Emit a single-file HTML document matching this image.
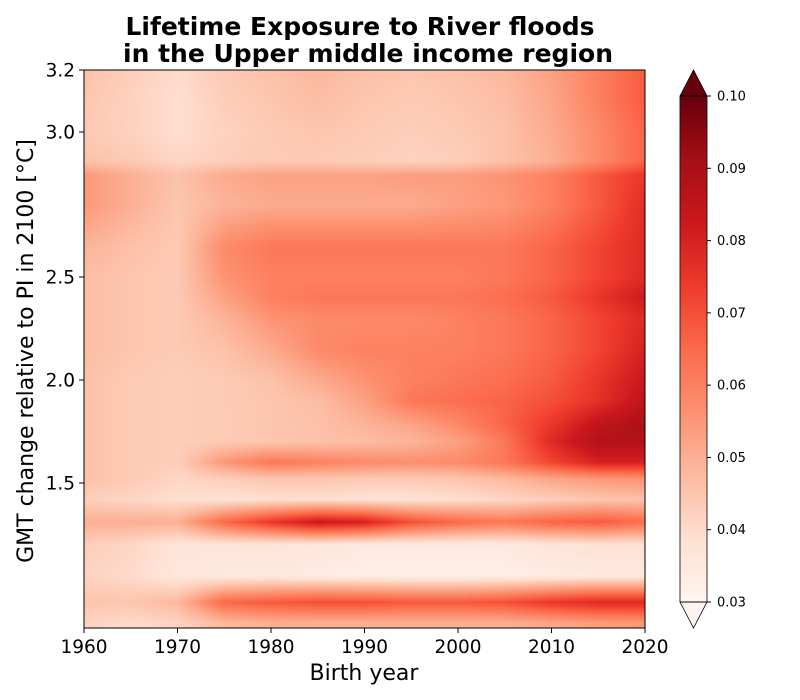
<!DOCTYPE html>
<html><head><meta charset="utf-8">
<style>
html,body{margin:0;padding:0;background:#fff;width:800px;height:700px;overflow:hidden;font-family:"DejaVu Sans","Liberation Sans",sans-serif;}
#wrap{position:relative;width:800px;height:700px;}
canvas{position:absolute;left:0;top:0;}
svg{position:absolute;left:0;top:0;font-family:"DejaVu Sans","Liberation Sans",sans-serif;}
</style></head>
<body>
<div id="wrap">
<canvas id="cv" width="800" height="700"></canvas>
<svg id="sv" width="800" height="700"></svg>
</div>
<script>
const years=[1960,1965,1970,1975,1980,1985,1990,1995,2000,2005,2010,2015,2020];
const gmtLevels=[0.82,0.92,1.05,1.2,1.31,1.42,1.52,1.6,1.7,1.78,1.9,2.0,2.15,2.3,2.4,2.5,2.6,2.75,2.85,2.9,3.0,3.1,3.2];
const exposure=[
[0.042,0.04,0.042,0.048,0.05,0.05,0.05,0.05,0.05,0.05,0.052,0.054,0.055],
[0.045,0.045,0.048,0.065,0.068,0.07,0.07,0.068,0.068,0.07,0.075,0.078,0.078],
[0.042,0.04,0.036,0.035,0.035,0.034,0.033,0.033,0.033,0.033,0.034,0.035,0.035],
[0.043,0.041,0.037,0.037,0.037,0.036,0.035,0.035,0.035,0.035,0.037,0.038,0.038],
[0.05,0.05,0.05,0.065,0.075,0.083,0.08,0.07,0.065,0.062,0.066,0.068,0.064],
[0.043,0.041,0.039,0.038,0.039,0.039,0.038,0.038,0.039,0.041,0.043,0.045,0.046],
[0.046,0.044,0.041,0.043,0.045,0.045,0.044,0.044,0.045,0.048,0.052,0.055,0.056],
[0.046,0.044,0.043,0.055,0.062,0.06,0.058,0.057,0.058,0.062,0.072,0.08,0.08],
[0.046,0.044,0.043,0.044,0.045,0.046,0.047,0.049,0.053,0.062,0.078,0.088,0.088],
[0.046,0.044,0.043,0.044,0.045,0.046,0.049,0.052,0.058,0.066,0.075,0.085,0.09],
[0.046,0.044,0.043,0.044,0.045,0.047,0.053,0.062,0.064,0.066,0.07,0.076,0.085],
[0.046,0.044,0.043,0.044,0.046,0.051,0.056,0.06,0.062,0.064,0.068,0.075,0.083],
[0.047,0.045,0.044,0.046,0.051,0.058,0.06,0.06,0.06,0.062,0.066,0.072,0.08],
[0.047,0.045,0.044,0.049,0.056,0.058,0.058,0.058,0.06,0.062,0.066,0.072,0.078],
[0.047,0.045,0.044,0.053,0.06,0.062,0.062,0.062,0.062,0.064,0.068,0.075,0.082],
[0.047,0.045,0.044,0.056,0.06,0.06,0.06,0.06,0.06,0.062,0.066,0.072,0.078],
[0.049,0.046,0.044,0.058,0.062,0.062,0.062,0.062,0.062,0.062,0.066,0.072,0.078],
[0.055,0.05,0.045,0.049,0.051,0.051,0.051,0.051,0.053,0.055,0.06,0.068,0.077],
[0.055,0.05,0.046,0.051,0.053,0.053,0.053,0.054,0.054,0.056,0.06,0.068,0.075],
[0.046,0.044,0.041,0.043,0.044,0.044,0.043,0.042,0.043,0.046,0.05,0.058,0.066],
[0.044,0.042,0.039,0.042,0.044,0.045,0.044,0.043,0.044,0.046,0.051,0.058,0.066],
[0.045,0.042,0.039,0.043,0.045,0.047,0.045,0.044,0.045,0.047,0.052,0.06,0.068],
[0.046,0.043,0.04,0.044,0.046,0.048,0.046,0.045,0.046,0.048,0.053,0.06,0.068]
];
const xTicks=[1960,1970,1980,1990,2000,2010,2020];
const yTicks=[1.5,2.0,2.5,3.0,3.2];
const yTickLabels=["1.5","2.0","2.5","3.0","3.2"];
const cbTicks=[0.03,0.04,0.05,0.06,0.07,0.08,0.09,0.10];
const cbTickLabels=["0.03","0.04","0.05","0.06","0.07","0.08","0.09","0.10"];

const L=84,R=645,T=70,B=628;
const vmin=0.03,vmax=0.10;
const yAnchG=[0.8,1.5,2.0,2.5,3.0,3.2], yAnchP=[627,483,380,277,132,70];
function yScale(g){
  for(let i=0;i<yAnchG.length-1;i++){
    if(g<=yAnchG[i+1]||i===yAnchG.length-2){
      const t=(g-yAnchG[i])/(yAnchG[i+1]-yAnchG[i]);
      return yAnchP[i]+t*(yAnchP[i+1]-yAnchP[i]);
    }
  }
}
function yInv(p){
  for(let i=0;i<yAnchP.length-1;i++){
    if(p>=yAnchP[i+1]||i===yAnchP.length-2){
      const t=(p-yAnchP[i])/(yAnchP[i+1]-yAnchP[i]);
      return yAnchG[i]+t*(yAnchG[i+1]-yAnchG[i]);
    }
  }
}
function xScale(y){return L+(y-1960)/(2020-1960)*(R-L);}
function xInv(p){return 1960+(p-L)/(R-L)*60;}
const stops=["#fff5f0","#fee0d2","#fcbba1","#fc9272","#fb6a4a","#ef3b2c","#cb181d","#a50f15","#67000d"].map(h=>[parseInt(h.slice(1,3),16),parseInt(h.slice(3,5),16),parseInt(h.slice(5,7),16)]);
function cmap(v){
  let t=(v-vmin)/(vmax-vmin); t=Math.max(0,Math.min(1,t));
  const f=t*(stops.length-1), i=Math.min(stops.length-2,Math.floor(f)), u=f-i;
  return stops[i].map((c,k)=>Math.round(c+(stops[i+1][k]-c)*u));
}
function interp(arr,v){
  if(v<=arr[0])return[0,0];
  for(let i=0;i<arr.length-1;i++) if(v<=arr[i+1]) return [i,(v-arr[i])/(arr[i+1]-arr[i])];
  return [arr.length-2,1];
}
const cv=document.getElementById('cv'),ctx=cv.getContext('2d');
const img=ctx.createImageData(R-L,B-T);
for(let py=T;py<B;py++){
  const [ri,rt]=interp(gmtLevels,yInv(py+0.5));
  for(let px=L;px<R;px++){
    const [ci,ct]=interp(years,xInv(px+0.5));
    const a=exposure[ri][ci],b=exposure[ri][ci+1],c=exposure[ri+1][ci],d=exposure[ri+1][ci+1];
    const v=(a*(1-ct)+b*ct)*(1-rt)+(c*(1-ct)+d*ct)*rt;
    const col=cmap(v),o=((py-T)*(R-L)+(px-L))*4;
    img.data[o]=col[0];img.data[o+1]=col[1];img.data[o+2]=col[2];img.data[o+3]=255;
  }
}
ctx.putImageData(img,L,T);
const CL=680,CR=707,CT=96,CB=602;
function cbY(v){return CB-(v-vmin)/(vmax-vmin)*(CB-CT);}
for(let py=CT;py<CB;py++){
  const c=cmap(vmin+(CB-py-0.5)/(CB-CT)*(vmax-vmin));
  ctx.fillStyle=`rgb(${c})`;ctx.fillRect(CL,py,CR-CL,1);
}
const sv=document.getElementById('sv'),NS="http://www.w3.org/2000/svg";
function mk(tag,at,txt){const e=document.createElementNS(NS,tag);for(const k in at)e.setAttribute(k,at[k]);if(txt!==undefined)e.textContent=txt;sv.appendChild(e);return e;}
let e;
e=mk('polygon',{points:`${CL},${CT} ${(CL+CR)/2},70 ${CR},${CT}`,fill:"#67000d",stroke:"#000","stroke-width":0.8});

e=mk('polygon',{points:`${CL},${CB} ${(CL+CR)/2},628 ${CR},${CB}`,fill:"#fff5f0",stroke:"#000","stroke-width":0.8});

e=mk('rect',{x:CL,y:CT,width:CR-CL,height:CB-CT,fill:"none",stroke:"#000","stroke-width":0.8});

cbTicks.forEach((v,i)=>{
  const y=cbY(v);
  mk('line',{x1:CR,x2:CR+4,y1:y,y2:y,stroke:"#000"});
  e=mk('text',{x:CR+10,y:y+4.5,"font-size":13,fill:"#000"},cbTickLabels[i]);
  
});
e=mk('rect',{x:L,y:T,width:R-L,height:B-T,fill:"none",stroke:"#000","stroke-width":1});

xTicks.forEach(v=>{
  const x=xScale(v);
  mk('line',{x1:x,x2:x,y1:B,y2:B+5,stroke:"#000"});
  e=mk('text',{x:x,y:B+25,"font-size":18.5,"text-anchor":"middle",fill:"#000"},String(v));
  
});
yTicks.forEach((v,i)=>{
  const y=yScale(v);
  mk('line',{x1:L-5,x2:L,y1:y,y2:y,stroke:"#000"});
  e=mk('text',{x:L-9,y:y+6.5,"font-size":18.5,"text-anchor":"end",fill:"#000"},yTickLabels[i]);
  
});
e=mk('text',{x:364,y:680,"font-size":22,"text-anchor":"middle",fill:"#000"},"Birth year");

e=mk('text',{x:0,y:0,"font-size":22,"text-anchor":"middle",fill:"#000",transform:"translate(33,351) rotate(-90)"},"GMT change relative to PI in 2100 [°C]");

e=mk('text',{x:360,y:35,"font-size":25,"font-weight":"bold","text-anchor":"middle",fill:"#000"},"Lifetime Exposure to River floods");

e=mk('text',{x:368,y:62,"font-size":25,"font-weight":"bold","text-anchor":"middle",fill:"#000"},"in the Upper middle income region");

</script>
</body></html>
